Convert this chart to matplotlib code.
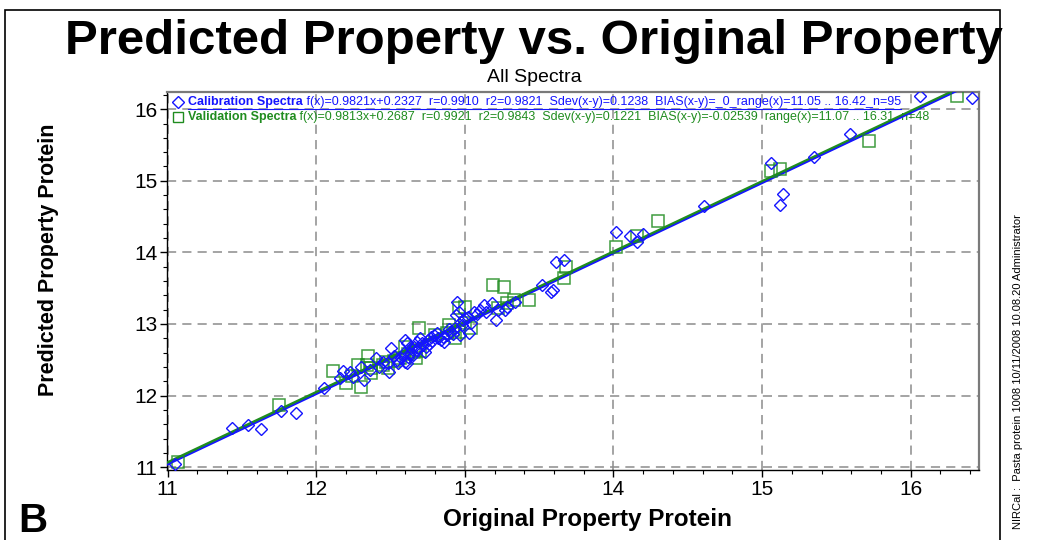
import matplotlib
matplotlib.use("Agg")
import matplotlib.pyplot as plt
from matplotlib.lines import Line2D
from matplotlib.patches import Rectangle
import numpy as np

plt.rcParams['font.family'] = ['Liberation Sans', 'DejaVu Sans']

# calibration spectra (blue diamonds)
cal_x = [11.05, 11.43, 11.54, 11.63, 11.76, 11.86, 12.05, 12.18, 12.16, 12.23,
         12.25, 12.30, 12.32, 12.40, 12.50, 12.49, 12.45, 12.48, 12.54, 12.60,
         12.61, 12.59, 12.60, 12.61, 12.62, 12.66, 12.67, 12.68, 12.70, 12.72,
         12.73, 12.75, 12.77, 12.79, 12.81, 12.84, 12.86, 12.88, 12.90, 12.93,
         12.94, 12.95, 12.96, 12.97, 12.98, 12.99, 13.02, 13.03, 13.04, 13.06,
         13.13, 13.14, 13.18, 13.21, 13.22, 13.27, 13.28, 13.34, 13.52, 13.58,
         13.59, 13.61, 13.67, 14.02, 14.11, 14.16, 14.20, 14.61, 15.06, 15.14,
         15.12, 15.35, 15.59, 16.06, 16.41, 12.36, 12.42, 12.52, 12.55, 12.57,
         12.63, 12.64, 12.65, 12.69, 12.71, 12.74, 12.76, 12.78, 12.82, 12.85,
         12.89, 12.92, 13.00, 13.08, 13.10]
cal_y = [11.04, 11.54, 11.59, 11.53, 11.79, 11.75, 12.11, 12.34, 12.24, 12.33,
         12.26, 12.40, 12.22, 12.53, 12.66, 12.33, 12.47, 12.45, 12.50, 12.77,
         12.73, 12.59, 12.47, 12.45, 12.54, 12.68, 12.63, 12.75, 12.80, 12.70,
         12.61, 12.77, 12.82, 12.84, 12.87, 12.77, 12.75, 12.84, 12.89, 12.94,
         13.12, 13.31, 13.17, 12.84, 12.98, 13.05, 13.10, 12.87, 13.01, 13.17,
         13.26, 13.17, 13.29, 13.05, 13.19, 13.19, 13.24, 13.31, 13.54, 13.45,
         13.47, 13.87, 13.90, 14.28, 14.23, 14.15, 14.26, 14.65, 15.25, 14.81,
         14.66, 15.33, 15.66, 16.19, 16.15, 12.36, 12.40, 12.55, 12.46, 12.52,
         12.60, 12.66, 12.57, 12.66, 12.74, 12.68, 12.72, 12.76, 12.80, 12.82,
         12.93, 12.86, 13.08, 13.14, 13.20]

# validation spectra (green squares)
val_x = [11.07, 11.75, 12.11, 12.20, 12.28, 12.30, 12.24, 12.35, 12.34, 12.37,
         12.37, 12.47, 12.48, 12.56, 12.60, 12.67, 12.66, 12.67, 12.69, 12.80,
         12.89, 12.88, 12.93, 12.96, 12.96, 13.00, 13.00, 13.04, 13.19, 13.26,
         13.22, 13.28, 13.33, 13.43, 13.68, 13.67, 14.02, 14.16, 14.30, 15.06,
         15.12, 15.72, 16.31, 12.62, 12.70, 12.52, 12.92, 12.45]
val_y = [11.07, 11.87, 12.34, 12.17, 12.43, 12.12, 12.27, 12.55, 12.43, 12.32,
         12.38, 12.47, 12.38, 12.53, 12.68, 12.63, 12.61, 12.52, 12.95, 12.84,
         12.98, 12.87, 12.80, 12.89, 13.22, 13.24, 13.01, 12.95, 13.55, 13.52,
         13.22, 13.29, 13.34, 13.33, 13.79, 13.64, 14.08, 14.23, 14.44, 15.14,
         15.16, 15.56, 16.19, 12.58, 12.62, 12.48, 12.92, 12.42]

cal_fit = (0.9821, 0.2327)
val_fit = (0.9813, 0.2687)

cal_label = "Calibration Spectra"
cal_stats = (" f(x)=0.9821x+0.2327  r=0.9910  r2=0.9821  Sdev(x-y)=0.1238  "
             "BIAS(x-y)=_0_range(x)=11.05 .. 16.42_n=95")
val_label = "Validation Spectra"
val_stats = (" f(x)=0.9813x+0.2687  r=0.9921  r2=0.9843  Sdev(x-y)=0.1221  "
             "BIAS(x-y)=-0.02539  range(x)=11.07 .. 16.31  n=48")

BLUE = "#1414ff"
GREEN = "#1f8c1f"

fig = plt.figure(figsize=(10.49, 5.40), dpi=100)
ax = fig.add_axes([167 / 1049, 1 - 470 / 540, (979 - 167) / 1049, (470 - 92) / 540])

xlim = (10.995, 16.46)
ylim = (10.96, 16.24)

xx = np.array(xlim)
ax.plot(xx, val_fit[0] * xx + val_fit[1], color=GREEN, lw=2.2, zorder=3)
ax.plot(xx, cal_fit[0] * xx + cal_fit[1], color=BLUE, lw=1.2, zorder=4)

ax.plot(val_x, val_y, ls='none', marker='s', ms=8.5, mfc='none', mec=GREEN,
        mew=1.1, alpha=0.85, zorder=5)
ax.plot(cal_x, cal_y, ls='none', marker='D', ms=6, mfc='none', mec=BLUE,
        mew=1.0, zorder=6)

ax.set_xlim(*xlim)
ax.set_ylim(*ylim)
ax.set_xticks([11, 12, 13, 14, 15, 16])
ax.set_yticks([11, 12, 13, 14, 15, 16])
ax.set_xticks(np.arange(11, 16.5, 0.2), minor=True)
ax.set_yticks(np.arange(11, 16.3, 0.2), minor=True)
ax.tick_params(which='major', direction='out', length=5, width=1, labelsize=15, pad=2)
ax.tick_params(which='minor', direction='out', length=3, width=0.8)
ax.grid(True, which='major', color='#8c8c8c', ls=(0, (6, 4)), lw=1.1)

for s in ('top', 'right'):
    ax.spines[s].set_color('#7a7a7a')
    ax.spines[s].set_linewidth(1.6)
for s in ('left', 'bottom'):
    ax.spines[s].set_color('black')
    ax.spines[s].set_linewidth(1.0)

ax.set_xlabel("Original Property Protein", fontsize=17.5, fontweight='bold')
ax.set_ylabel("Predicted Property Protein", fontsize=15.5, fontweight='bold')
ax.xaxis.label.set_va('center')
ax.yaxis.label.set_va('center')
ax.xaxis.set_label_coords(0.518, -0.132)
ax.yaxis.set_label_coords(-0.146, 0.556)

fig.text(534 / 1049, 1 - 42 / 540, "Predicted Property vs. Original Property",
         ha='center', va='center', fontsize=35.5, fontweight='bold')
fig.text(534 / 1049, 1 - 77 / 540, "All Spectra", ha='center', va='center',
         fontsize=14)
fig.text(18 / 1049, 1 - 521 / 540, "B", ha='left', va='center', fontsize=29,
         fontweight='bold')
fig.text(1018 / 1049, 1 - 372 / 540,
         "NIRCal :  Pasta protein 1008 10/11/2008 10.08.20 Administrator",
         rotation=90, ha='center', va='center', fontsize=8)

fig.add_artist(Rectangle((5 / 1049, -0.1), (1000 - 5) / 1049, 1 - 10 / 540 + 0.1,
                         transform=fig.transFigure, fill=False, ec='black', lw=1.2))

# legend rows at top left of the axes
rows = [(1 - 102 / 540, 'D', 6, BLUE, cal_label, cal_stats),
        (1 - 117 / 540, 's', 7, GREEN, val_label, val_stats)]
made = []
for ypos, mk, ms, col, lab, stats in rows:
    fig.add_artist(Line2D([178 / 1049], [ypos], marker=mk, ms=ms, mfc='none',
                          mec=col, mew=1.0, transform=fig.transFigure))
    t1 = fig.text(188 / 1049, ypos, lab, ha='left', va='center', fontsize=9,
                  fontweight='bold', color=col)
    t2 = ax.annotate(stats, xy=(1, 0), xycoords=t1, ha='left', va='bottom',
                     fontsize=9, color=col, annotation_clip=False)
    made.append((t1, t2))

# underline the selected (calibration) row
fig.canvas.draw()
t1, t2 = made[0]
b1 = t1.get_window_extent()
b2 = t2.get_window_extent()
fig.add_artist(Line2D([b1.x0 / fig.bbox.width, b2.x1 / fig.bbox.width],
                      [(b1.y0 - 1) / fig.bbox.height] * 2, color=BLUE, lw=0.8,
                      transform=fig.transFigure))

fig.savefig("out.png", dpi=100)
